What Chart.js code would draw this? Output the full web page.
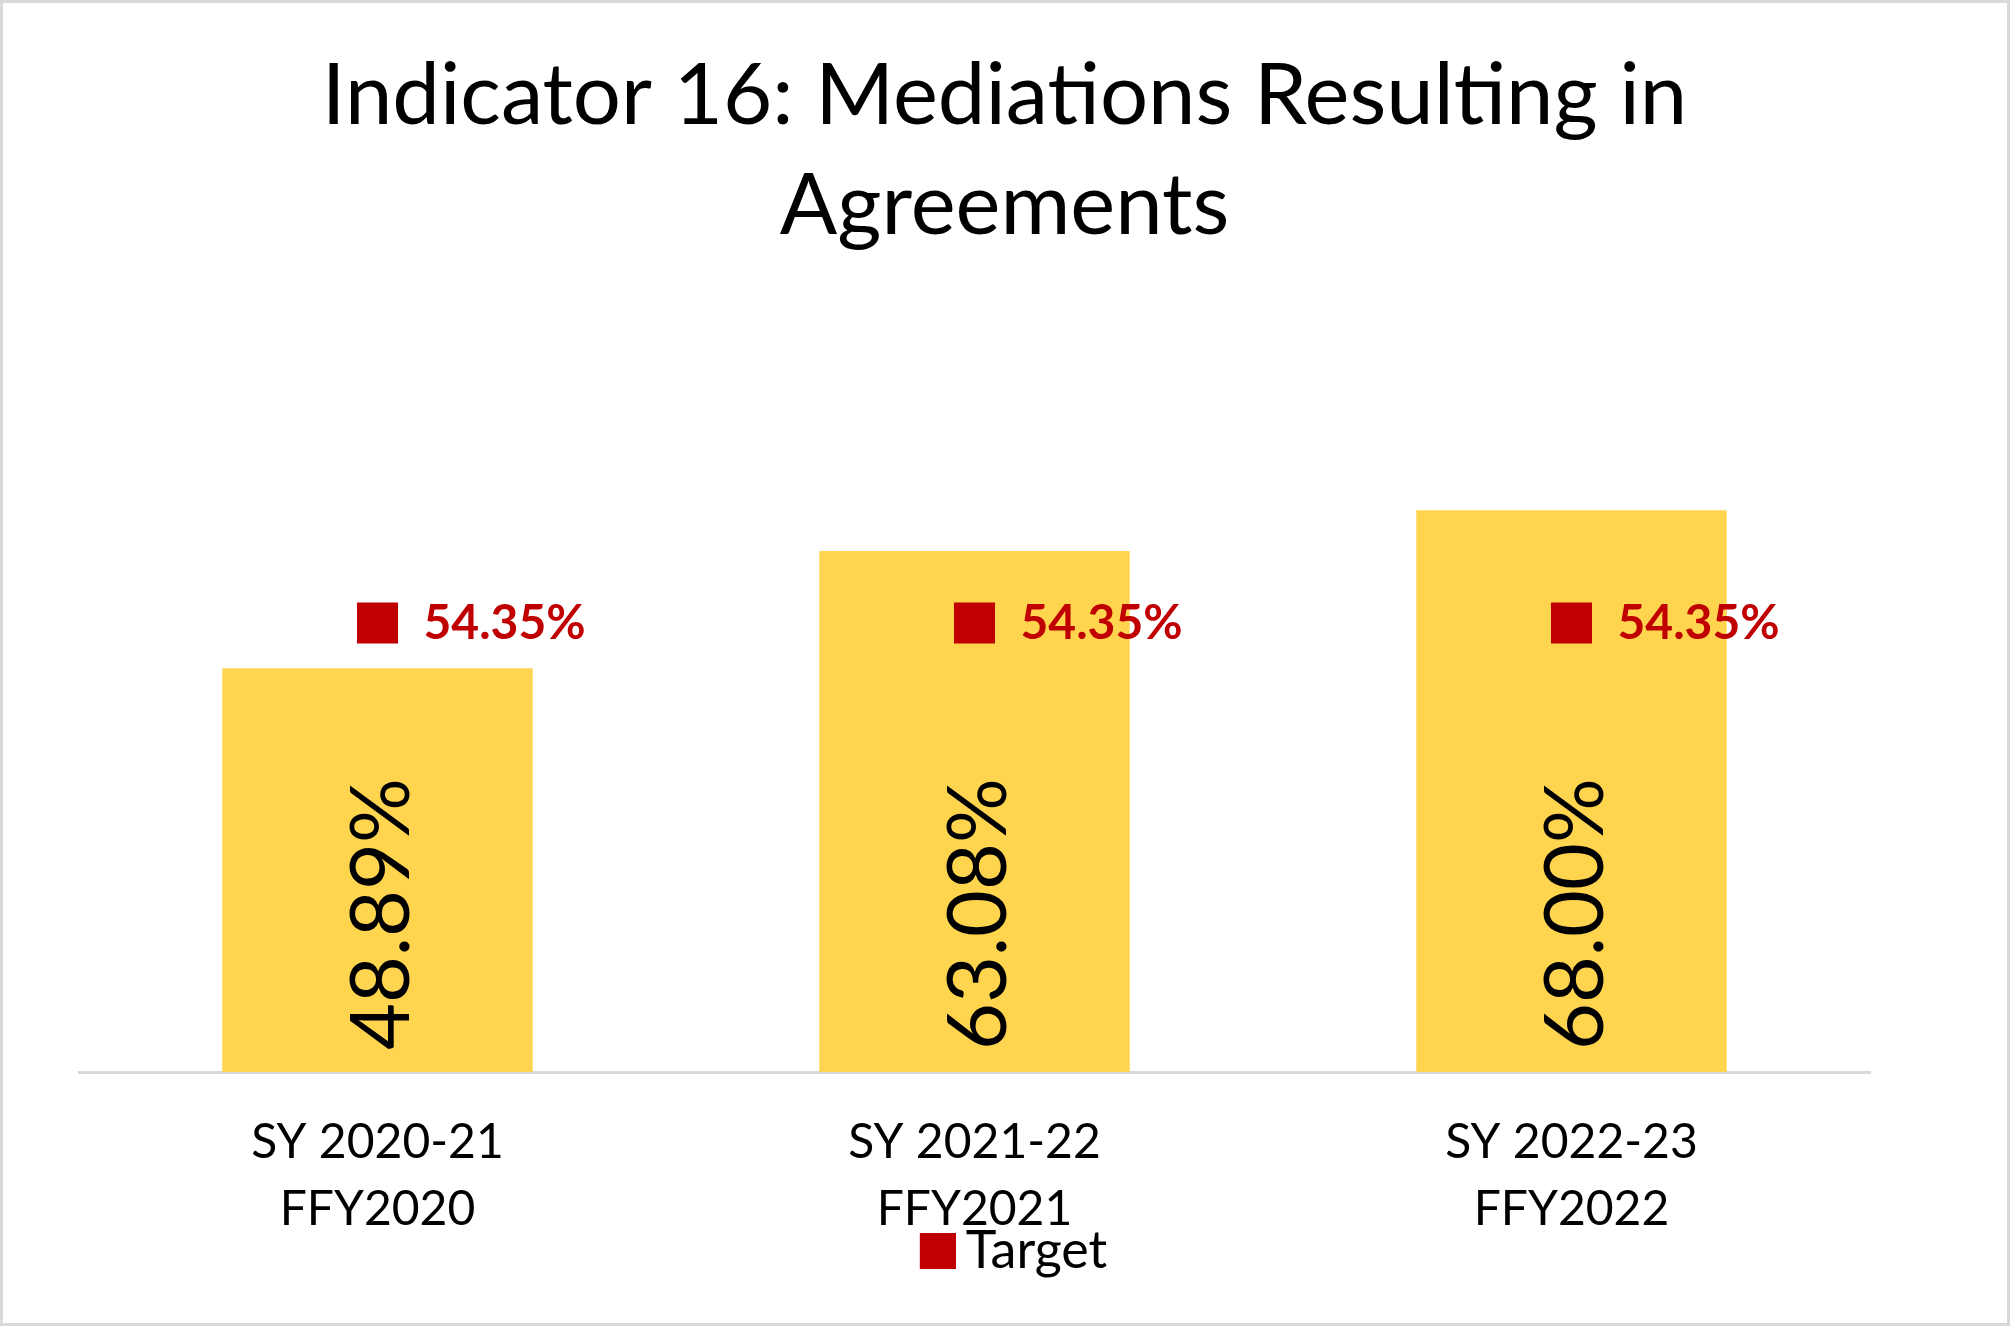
<!DOCTYPE html>
<html>
<head>
<meta charset="utf-8">
<script src="https://cdn.jsdelivr.net/npm/chart.js@4.4.0/dist/chart.umd.min.js"></script>
<style>
  html, body { margin: 0; padding: 0; background: #fff; }
  #wrap { width: 2010px; height: 1326px; position: relative; }
  #chart { outline: 3px solid #d9d9d9; outline-offset: -3px; }
</style>
</head>
<body>
<div id="wrap"><canvas id="chart" width="2010" height="1326"></canvas></div>
<script>
const categories = [['SY 2020-21', 'FFY2020'], ['SY 2021-22', 'FFY2021'], ['SY 2022-23', 'FFY2022']];
const results = [48.89, 63.08, 68.00];
const target = [54.35, 54.35, 54.35];

const FONT = 'Lato';
const RED = '#C00000';

// legend swatch: square sits in the right part of the image so the text comes closer
const swatch = document.createElement('canvas');
swatch.width = 52;
swatch.height = 36;
const sctx = swatch.getContext('2d');
sctx.fillStyle = RED;
sctx.fillRect(16, 0, 36, 36);

// draws the value labels, rotated inside the bars and bold red beside the target markers
const valueLabels = {
  id: 'valueLabels',
  afterLayout(chart) {
    // let the x labels overflow into the legend band, and centre title / legend on the canvas
    chart.scales.x.bottom += 60;
    chart.legend.left += 39;
    chart.legend.right += 39;
    chart.titleBlock.left += 30;
    chart.titleBlock.right += 30;
  },
  afterDatasetsDraw(chart) {
    const ctx = chart.ctx;
    chart.data.datasets.forEach((ds, i) => {
      const meta = chart.getDatasetMeta(i);
      meta.data.forEach((el, j) => {
        const txt = ds.data[j].toFixed(2) + '%';
        ctx.save();
        if (ds.type === 'bar') {
          ctx.font = '81px ' + FONT;
          ctx.fillStyle = '#000';
          ctx.translate(el.x + 31, el.base - 22);
          ctx.rotate(-Math.PI / 2);
          ctx.textAlign = 'left';
          ctx.textBaseline = 'alphabetic';
          ctx.fillText(txt, 0, 0);
        } else {
          ctx.font = 'bold 48px ' + FONT;
          ctx.fillStyle = RED;
          ctx.textAlign = 'left';
          ctx.textBaseline = 'middle';
          ctx.fillText(txt, el.x + 46, el.y);
        }
        ctx.restore();
      });
    });
  }
};

new Chart(document.getElementById('chart'), {
  data: {
    labels: categories,
    datasets: [{
      type: 'line',
      label: 'Target',
      data: target,
      showLine: false,
      pointStyle: 'rect',
      pointRadius: 29,
      pointHoverRadius: 29,
      backgroundColor: RED,
      borderColor: RED,
      borderWidth: 0
    }, {
      type: 'bar',
      label: 'Result',
      data: results,
      backgroundColor: '#FFD54F',
      categoryPercentage: 1,
      barPercentage: 0.52
    }]
  },
  options: {
    responsive: false,
    animation: false,
    layout: { padding: { left: 79, right: 140, top: 0, bottom: 39 } },
    plugins: {
      title: {
        display: true,
        text: ['Indicator 16: Mediations Resulting in', 'Agreements'],
        color: '#000',
        font: { family: FONT, size: 85, weight: 'normal', lineHeight: 1.294 },
        padding: { top: 42, bottom: -16 }
      },
      legend: {
        position: 'bottom',
        labels: {
          color: '#000',
          font: { family: FONT, size: 52 },
          usePointStyle: true,
          pointStyle: swatch,
          pointStyleWidth: 20,
          boxWidth: 20,
          boxHeight: 36,
          padding: 10,
          filter: (item) => item.text === 'Target'
        }
      },
      tooltip: { enabled: false }
    },
    scales: {
      x: {
        grid: { display: false, drawTicks: false },
        border: { display: true, color: '#d9d9d9', width: 3 },
        ticks: {
          color: '#000',
          font: { family: FONT, size: 48, lineHeight: 1.4 },
          padding: 37,
          maxRotation: 0
        },
        afterFit(scale) { scale.height = 143; }
      },
      y: {
        display: false,
        min: 0,
        max: 100
      }
    }
  },
  plugins: [valueLabels]
});
</script>
</body>
</html>
